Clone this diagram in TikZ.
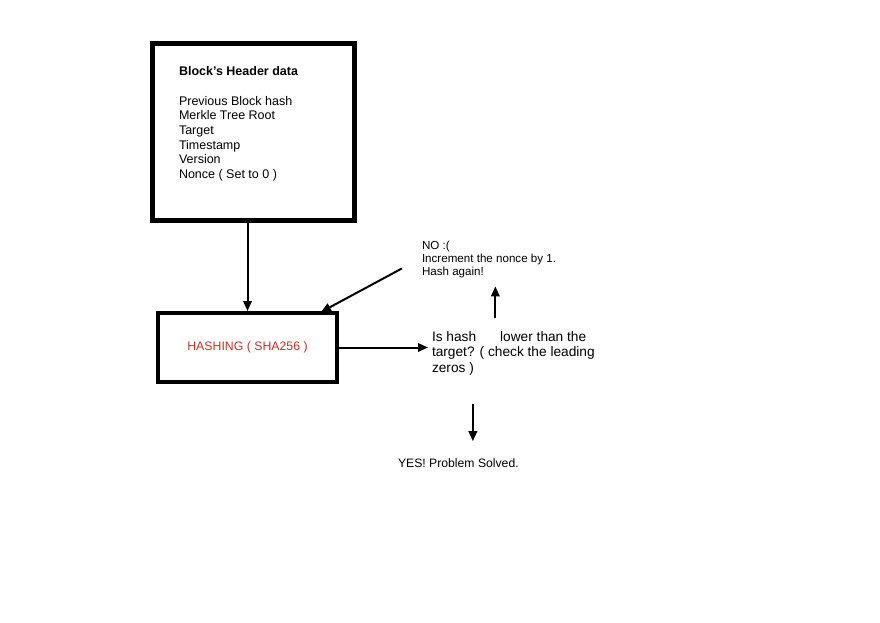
\documentclass[tikz,border=0pt]{standalone}
\usepackage{fontspec}
\setmainfont{Liberation Sans}
\usepackage{tikz}
\usetikzlibrary{arrows.meta}

\begin{document}
\begin{tikzpicture}[x=1pt,y=-1pt,
  box/.style={draw=black,fill=white,inner sep=0pt},
  txt/.style={inner sep=0pt,outer sep=0pt,anchor=base west,align=left,text=black},
  arrow/.style={draw=black,line width=2pt,-{Triangle[length=10pt,width=8.5pt]}}]
\path[use as bounding box] (0,0) rectangle (880,622);
\path[fill=white,draw=none] (0,0) rectangle (880,622);
% header box and its fields (base = last line)
\node[box,line width=5pt,minimum width=202pt,minimum height=177pt] (header) at (253.5,132) {};
\node[txt,font=\fontsize{12.5}{14.7}\selectfont] (fields) at (179,178.5) {\textbf{Block's Header data}\\[14.7pt]
  Previous Block hash\\ Merkle Tree Root\\ Target\\ Timestamp\\ Version\\ Nonce ( Set to 0 )};
% hashing step
\node[box,line width=4pt,minimum width=179pt,minimum height=69pt,
  text={rgb,255:red,204;green,48;blue,36},font=\fontsize{12.3}{14}\selectfont] (hashing) at (247.5,347.5) {HASHING ( SHA256 )};
% comparison and outcomes
\node[txt,font=\fontsize{13.7}{15.5}\selectfont] (check) at (432,372) {Is hash\hspace{24pt}lower than the\\ target? ( check the leading\\ zeros )};
\node[txt,font=\fontsize{11.6}{13}\selectfont] (retry) at (422,275) {NO :(\\ Increment the nonce by 1.\\ Hash again!};
\node[txt,font=\fontsize{12.2}{14}\selectfont] (solved) at (398,467) {YES! Problem Solved.};
\coordinate (upfoot) at ([xshift=-18pt,yshift=13pt]check.north);
\coordinate (downtip) at ([xshift=14.5pt,yshift=17pt]solved.north);
% connectors
\draw[arrow] (header.south -| hashing.north) -- (hashing.north);
\draw[arrow] (hashing.east) -- ([xshift=-4pt]hashing.east -| check.west);
\draw[arrow,shorten >=9pt] (upfoot) -- (upfoot |- retry.south);
\draw[arrow] ([xshift=-20pt,yshift=9pt]retry.south west) -- ([xshift=-18pt,yshift=-1pt]hashing.north east);
\draw[arrow,shorten <=29pt] (downtip |- check.south) -- (downtip);
\end{tikzpicture}
\end{document}
